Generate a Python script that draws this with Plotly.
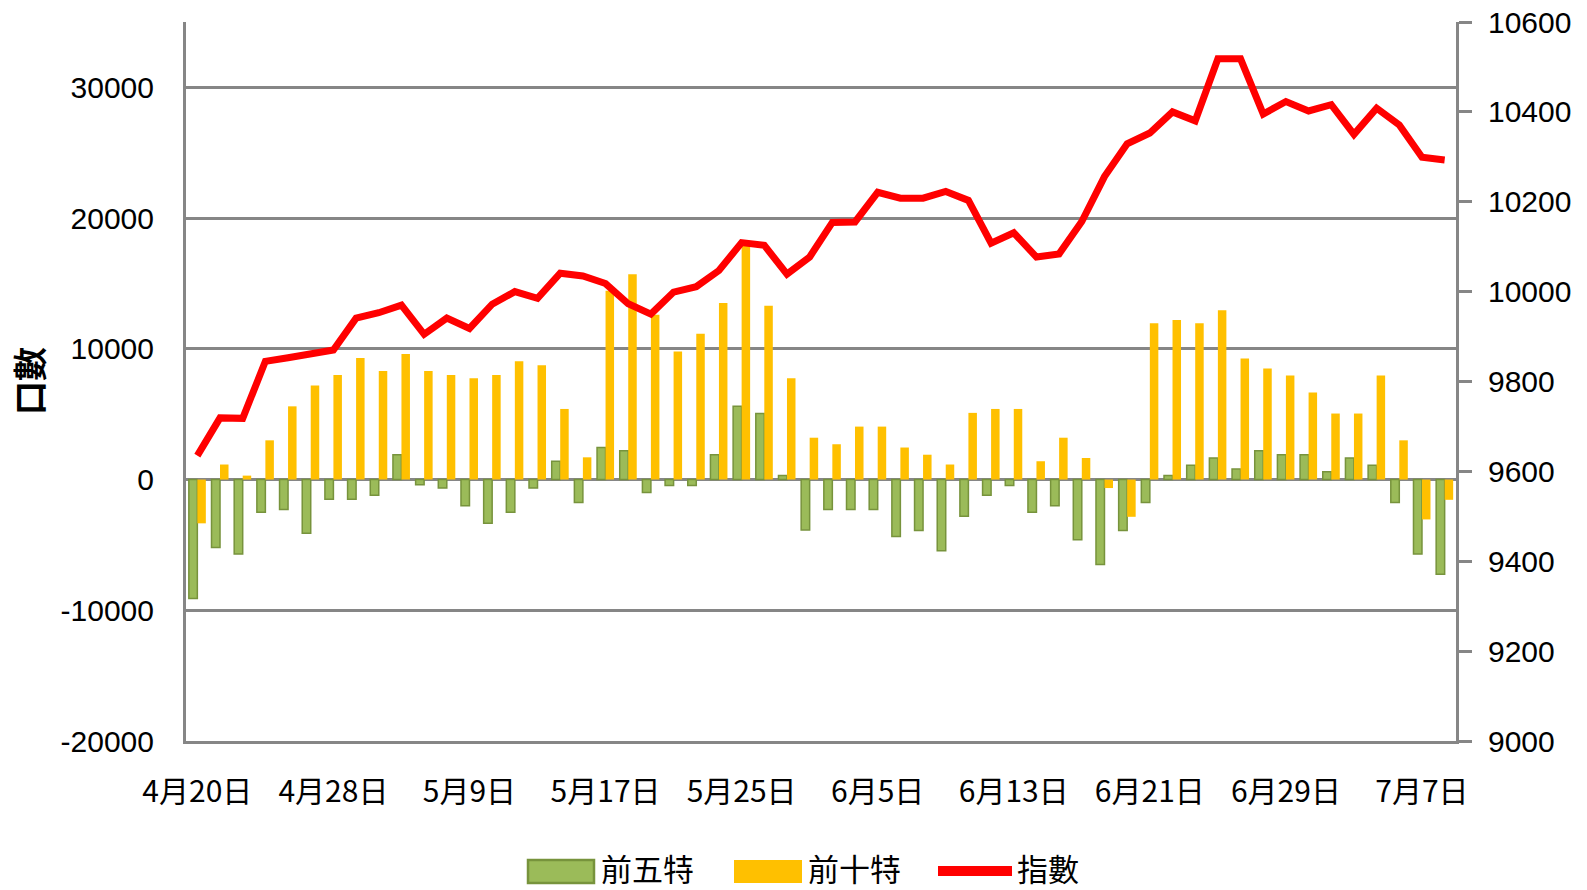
import plotly.graph_objects as go

# ---- data ----
dates = ["4月20日", "4月21日", "4月24日", "4月25日", "4月26日", "4月27日", "4月28日",
         "5月2日", "5月3日", "5月4日", "5月5日", "5月8日", "5月9日", "5月10日", "5月11日",
         "5月12日", "5月15日", "5月16日", "5月17日", "5月18日", "5月19日", "5月22日",
         "5月23日", "5月24日", "5月25日", "5月26日", "5月31日", "6月1日", "6月2日", "6月3日",
         "6月5日", "6月6日", "6月7日", "6月8日", "6月9日", "6月12日", "6月13日", "6月14日",
         "6月15日", "6月16日", "6月19日", "6月20日", "6月21日", "6月22日", "6月23日",
         "6月26日", "6月27日", "6月28日", "6月29日", "6月30日", "7月3日", "7月4日",
         "7月5日", "7月6日", "7月7日", "7月10日"]

top5 = [-9100, -5200, -5700, -2500, -2300, -4100, -1500, -1500, -1200, 1900,
        -400, -650, -2000, -3350, -2500, -650, 1400, -1750, 2450, 2200,
        -1000, -450, -450, 1900, 5600, 5050, 300, -3850, -2300, -2300,
        -2300, -4350, -3900, -5450, -2800, -1200, -450, -2500, -2000, -4600,
        -6500, -3900, -1750, 300, 1100, 1650, 800, 2200, 1900, 1900,
        600, 1650, 1100, -1750, -5700, -7250]

top10 = [-3350, 1150, 300, 3000, 5600, 7200, 8000, 9300, 8300, 9600,
         8300, 8000, 7750, 8000, 9050, 8750, 5400, 1700, 14450, 15700,
         12600, 9800, 11150, 13500, 18000, 13300, 7750, 3200, 2700, 4050,
         4050, 2450, 1900, 1150, 5100, 5400, 5400, 1400, 3200, 1650,
         -650, -2850, 11950, 12200, 11950, 12950, 9250, 8500, 7950, 6650,
         5050, 5050, 7950, 3000, -3050, -1550]

index_vals = [9635, 9719, 9718, 9845, 9853, 9861, 9870, 9941, 9953, 9970,
              9905, 9941, 9918, 9972, 10000, 9985, 10041, 10035, 10018, 9973,
              9950, 9999, 10011, 10047, 10109, 10103, 10039, 10077, 10154, 10155,
              10221, 10208, 10208, 10223, 10203, 10108, 10131, 10077, 10084, 10156,
              10256, 10329, 10353, 10400, 10380, 10518, 10518, 10395, 10423, 10402,
              10416, 10350, 10408, 10371, 10299, 10293]

tick_labels = ["4月20日", "4月28日", "5月9日", "5月17日", "5月25日",
               "6月5日", "6月13日", "6月21日", "6月29日", "7月7日"]

left_ticks = [-20000, -10000, 0, 10000, 20000, 30000]
right_ticks = [9000, 9200, 9400, 9600, 9800, 10000, 10200, 10400, 10600]

series_names = ["前五特", "前十特", "指數"]

# ---- style ----
GREEN = "#9BBB59"
GREEN_EDGE = "#77933C"
YELLOW = "#FFC000"
RED = "#FF0000"
GRID = "#868686"
FONT = "Noto Sans CJK TC"
NUM_FONT = "Liberation Sans"

W, H = 1587, 890
ML, MR, MT, MB = 186, 131, 22, 149
PW, PH = W - ML - MR, H - MT - MB


def px_x(px):
    return (px - ML) / PW


def px_y(py):
    return (H - MB - py) / PH


fig = go.Figure()
fig.add_trace(go.Bar(x=dates, y=top5, name=series_names[0],
                     marker=dict(color=GREEN, line=dict(color=GREEN_EDGE, width=1.5)),
                     showlegend=False))
fig.add_trace(go.Bar(x=dates, y=top10, name=series_names[1],
                     marker=dict(color=YELLOW, line=dict(width=0)),
                     showlegend=False))
fig.add_trace(go.Scatter(x=dates, y=index_vals, name=series_names[2], yaxis="y2",
                         mode="lines", line=dict(color=RED, width=7),
                         showlegend=False))

# custom legend (wide swatches like the original)
shapes = [
    dict(type="rect", xref="paper", yref="paper",
         x0=px_x(528), x1=px_x(594), y0=px_y(883), y1=px_y(860),
         fillcolor=GREEN, line=dict(color=GREEN_EDGE, width=2.5)),
    dict(type="rect", xref="paper", yref="paper",
         x0=px_x(734), x1=px_x(802), y0=px_y(883), y1=px_y(860),
         fillcolor=YELLOW, line=dict(width=0)),
    dict(type="line", xref="paper", yref="paper",
         x0=px_x(938), x1=px_x(1012), y0=px_y(871), y1=px_y(871),
         line=dict(color=RED, width=10)),
]
annotations = [
    dict(text=series_names[0], xref="paper", yref="paper", x=px_x(599), y=px_y(867),
         xanchor="left", yanchor="middle", showarrow=False,
         font=dict(family=FONT, size=31, color="#000")),
    dict(text=series_names[1], xref="paper", yref="paper", x=px_x(806), y=px_y(867),
         xanchor="left", yanchor="middle", showarrow=False,
         font=dict(family=FONT, size=31, color="#000")),
    dict(text=series_names[2], xref="paper", yref="paper", x=px_x(1015), y=px_y(867),
         xanchor="left", yanchor="middle", showarrow=False,
         font=dict(family=FONT, size=31, color="#000")),
    dict(text="<b>口數</b>", xref="paper", yref="paper", x=px_x(28), y=px_y(381),
         xanchor="center", yanchor="middle", showarrow=False, textangle=-90,
         font=dict(family=FONT, size=34, color="#000")),
]

fig.update_layout(
    width=W, height=H,
    margin=dict(l=ML, r=MR, t=MT, b=MB, pad=0, autoexpand=False),
    paper_bgcolor="white", plot_bgcolor="white",
    barmode="group", bargap=0.25, bargroupgap=0,
    font=dict(family=FONT, size=29, color="#000"),
    shapes=shapes, annotations=annotations,
    xaxis=dict(
        type="category", range=[-0.5, len(dates) - 0.5], automargin=False,
        tickmode="array", tickvals=[dates[i] for i in range(0, len(dates), 6)],
        ticktext=tick_labels,
        showgrid=False, showline=True, linecolor=GRID, linewidth=3,
        ticks="", ticklabelstandoff=22,
        tickfont=dict(family=FONT, size=30, color="#000"),
    ),
    yaxis=dict(
        range=[-20000, 35000], tickmode="array", tickvals=left_ticks, automargin=False,
        ticktext=[str(v) for v in left_ticks],
        showgrid=True, gridcolor=GRID, gridwidth=2.5,
        zeroline=False, showline=True, linecolor=GRID, linewidth=3,
        ticks="", ticklabelstandoff=23, ticklabeloverflow="allow",
        tickfont=dict(family=NUM_FONT, size=30, color="#000"),
    ),
    yaxis2=dict(
        range=[8999.99, 10600.01], tickmode="array", tickvals=right_ticks, automargin=False,
        ticktext=[str(v) for v in right_ticks],
        overlaying="y", side="right",
        showgrid=False, zeroline=False, showline=True, linecolor=GRID, linewidth=3,
        ticks="outside", ticklen=13, tickwidth=2.5, tickcolor=GRID,
        ticklabelstandoff=10, ticklabeloverflow="allow",
        tickfont=dict(family=NUM_FONT, size=30, color="#000"),
    ),
)

fig.write_html("out.html", config={"displayModeBar": False},
               post_script="document.body.style.margin='0';")
